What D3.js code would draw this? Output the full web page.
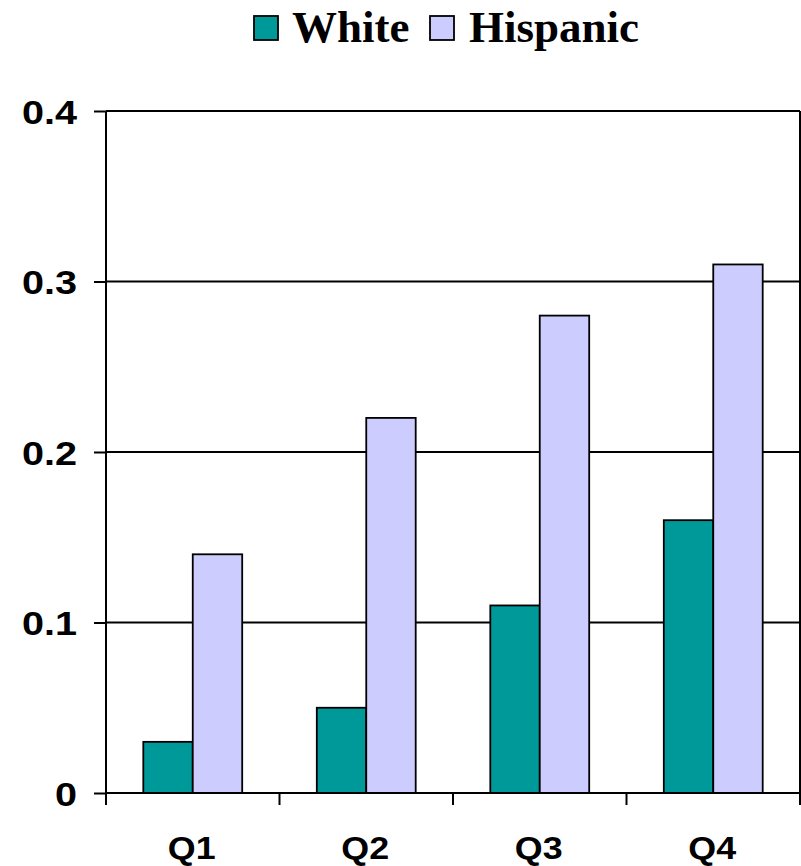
<!DOCTYPE html>
<html>
<head>
<meta charset="utf-8">
<script src="https://cdn.jsdelivr.net/npm/d3@7"></script>
<style>
  html, body { margin: 0; padding: 0; background: #fff; }
  svg { display: block; }
</style>
</head>
<body>
<svg id="chart" width="801" height="866"></svg>
<script>
// Quartile categories and the two series plotted per quartile
const categories = ["Q1", "Q2", "Q3", "Q4"];
const seriesNames = ["White", "Hispanic"];
const whiteValues = [0.03, 0.05, 0.11, 0.16];
const hispanicValues = [0.14, 0.22, 0.28, 0.31];
const yTicks = [0, 0.1, 0.2, 0.3, 0.4];
const yTickLabels = ["0", "0.1", "0.2", "0.3", "0.4"];
const seriesColors = ["#009999", "#ccccff"];

const rows = categories.map((c, i) => ({
  cat: c,
  vals: [whiteValues[i], hispanicValues[i]]
}));

const svg = d3.select("#chart");
const plot = { left: 106, right: 800, top: 111, bottom: 793 };

const x = d3.scaleBand()
  .domain(categories)
  .range([plot.left, plot.right])
  .paddingInner(0)
  .paddingOuter(0);

const y = d3.scaleLinear()
  .domain([0, 0.4])
  .range([plot.bottom, plot.top]);

const barW = x.bandwidth() * 0.285;

// Horizontal gridlines
svg.append("g")
  .selectAll("line")
  .data(yTicks.filter(t => t > 0))
  .join("line")
  .attr("x1", plot.left).attr("x2", plot.right)
  .attr("y1", d => y(d)).attr("y2", d => y(d))
  .attr("stroke", "#000").attr("stroke-width", 2);

// Bars
const groups = svg.append("g")
  .selectAll("g")
  .data(rows)
  .join("g")
  .attr("transform", d => `translate(${x(d.cat) + x.bandwidth() / 2 - barW},0)`);

groups.selectAll("rect")
  .data(d => d.vals)
  .join("rect")
  .attr("x", (d, i) => i * barW)
  .attr("y", d => y(d))
  .attr("width", barW)
  .attr("height", d => y(0) - y(d))
  .attr("fill", (d, i) => seriesColors[i])
  .attr("stroke", "#000")
  .attr("stroke-width", 1.8);

// Y axis
const yAxis = svg.append("g")
  .attr("transform", `translate(${plot.left},0)`)
  .call(d3.axisLeft(y).tickValues(yTicks).tickFormat((d, i) => yTickLabels[i]).tickSize(12).tickPadding(0));
yAxis.select(".domain").attr("d", `M0,${plot.top}V${plot.bottom}`).attr("stroke", "#000").attr("stroke-width", 2);
yAxis.selectAll(".tick line").attr("stroke", "#000").attr("stroke-width", 2);
yAxis.selectAll(".tick text").remove();
yAxis.selectAll(".tick").append("text")
  .attr("transform", "translate(-29,12) scale(1.2,1)")
  .attr("text-anchor", "end")
  .attr("fill", "#000")
  .style("font-family", "'Liberation Sans', Arial, sans-serif")
  .style("font-weight", "bold")
  .style("font-size", "33px")
  .text((d, i) => yTickLabels[i]);

// X axis
const xAxis = svg.append("g")
  .attr("transform", `translate(0,${plot.bottom})`)
  .call(d3.axisBottom(x).tickSize(0).tickPadding(0));
xAxis.select(".domain").attr("d", `M${plot.left},0H${plot.right}`).attr("stroke", "#000").attr("stroke-width", 2);
xAxis.selectAll(".tick text").remove();
xAxis.selectAll(".tick").append("text")
  .attr("transform", "translate(-1,66) scale(1.12,1)")
  .attr("text-anchor", "middle")
  .attr("fill", "#000")
  .style("font-family", "'Liberation Sans', Arial, sans-serif")
  .style("font-weight", "bold")
  .style("font-size", "32px")
  .text(d => d);

// Category boundary ticks below the axis
const bounds = categories.map(c => x(c)).concat([plot.right]);
svg.append("g")
  .selectAll("line")
  .data(bounds)
  .join("line")
  .attr("x1", d => d).attr("x2", d => d)
  .attr("y1", plot.bottom).attr("y2", plot.bottom + 12)
  .attr("stroke", "#000").attr("stroke-width", 2);

// Right edge of the plot area
svg.append("line")
  .attr("x1", plot.right).attr("x2", plot.right)
  .attr("y1", plot.top).attr("y2", plot.bottom)
  .attr("stroke", "#000").attr("stroke-width", 2);

// Legend
const legendItems = [
  { name: seriesNames[0], color: seriesColors[0], box: 254, text: 292 },
  { name: seriesNames[1], color: seriesColors[1], box: 430, text: 469 }
];
const legend = svg.append("g");
legend.selectAll("rect")
  .data(legendItems)
  .join("rect")
  .attr("x", d => d.box).attr("y", 16)
  .attr("width", 24).attr("height", 24)
  .attr("fill", d => d.color)
  .attr("stroke", "#000").attr("stroke-width", 1.8);
legend.selectAll("text")
  .data(legendItems)
  .join("text")
  .attr("x", d => d.text).attr("y", 42)
  .attr("fill", "#000")
  .style("font-family", "'Liberation Serif', 'Times New Roman', serif")
  .style("font-weight", "bold")
  .style("font-size", "45px")
  .text(d => d.name);
</script>
</body>
</html>
